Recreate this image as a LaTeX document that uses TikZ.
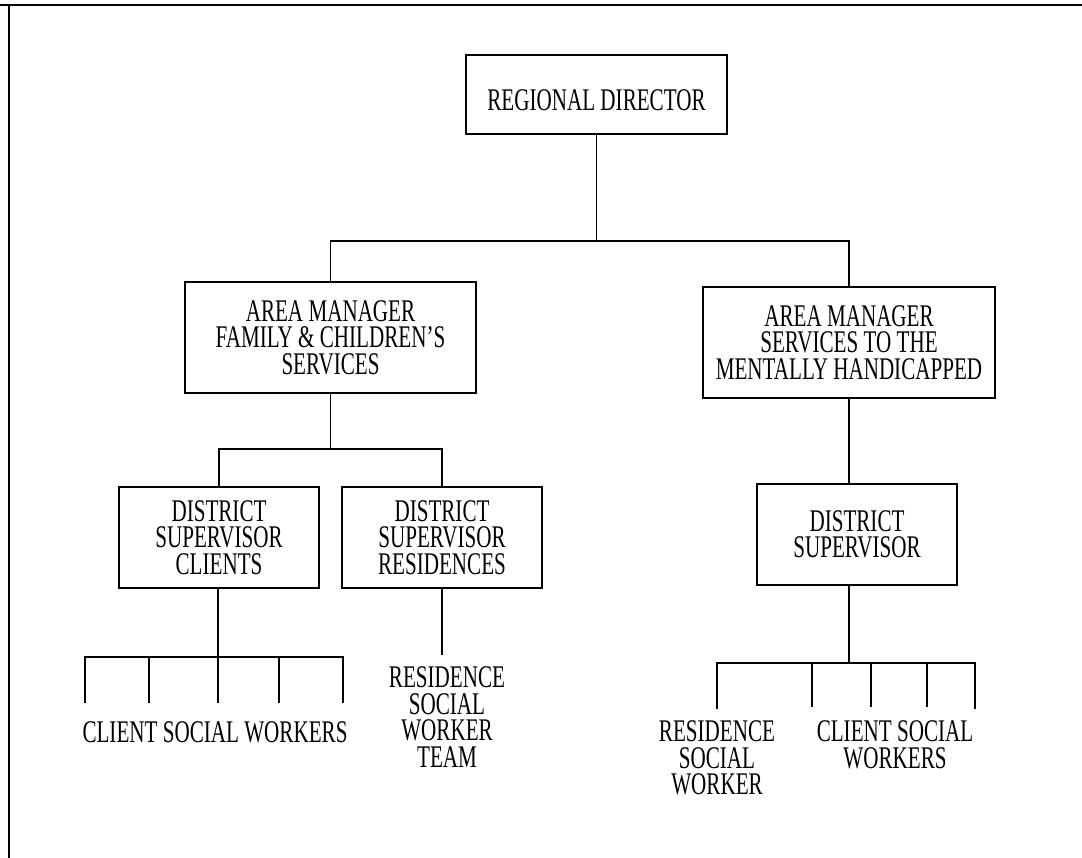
\documentclass[tikz,border=0pt]{standalone}
\usepackage{fontspec}
\setmainfont{Liberation Serif}[FakeStretch=0.67]
\newcommand{\lblfont}{\fontsize{31.5}{26.5}\selectfont}
\begin{document}
\begin{tikzpicture}[x=1pt,y=-1pt,
  orgbox/.style={draw, line width=1.8pt, inner sep=0pt, align=center, font=\lblfont},
  leaf/.style={inner sep=0pt, align=center, font=\lblfont},
  conn/.style={line width=1.4pt},
  frame/.style={line width=2pt}]
\useasboundingbox (0,0) rectangle (1082,858);
% frame (top and left only)
\coordinate (ftl) at (9,5);
\coordinate (ftr) at (1082,5);
\coordinate (fbl) at (9,858);
\coordinate (ftl0) at (0,5);
\draw[frame] (ftl0) -- (ftr);
\draw[frame] (ftl) -- (fbl);

% boxes
\node[orgbox, minimum width=261pt, minimum height=79pt, text height=33pt, text depth=0pt] (rd) at (596.5,94.5) {REGIONAL DIRECTOR};
\node[orgbox, minimum width=291pt, minimum height=111pt] (am1) at (330.5,337.5) {AREA MANAGER\\FAMILY \& CHILDREN'S\\SERVICES};
\node[orgbox, minimum width=292pt, minimum height=111pt] (am2) at (849,342.5) {AREA MANAGER\\SERVICES TO THE\\MENTALLY HANDICAPPED};
\node[orgbox, minimum width=200pt, minimum height=101pt] (ds1) at (219,537.5) {DISTRICT\\SUPERVISOR\\CLIENTS};
\node[orgbox, minimum width=200pt, minimum height=101pt] (ds2) at (442,537.5) {DISTRICT\\SUPERVISOR\\RESIDENCES};
\node[orgbox, minimum width=200pt, minimum height=101pt] (ds3) at (857,534.5) {DISTRICT\\SUPERVISOR};

% leaf texts
\node[leaf] (cw1) at (215,732) {CLIENT SOCIAL WORKERS};
\node[leaf] (rswt) at (447,717) {RESIDENCE\\SOCIAL\\WORKER\\TEAM};
\node[leaf] (rsw) at (717,758) {RESIDENCE\\SOCIAL\\WORKER};
\node[leaf] (cw2) at (895,745) {CLIENT SOCIAL\\WORKERS};

% top level connectors
\coordinate (bus1) at (596.5,241);
\draw[conn] (rd.south) -- (bus1);
\draw[conn] (am1.north) -- (am1.north |- bus1) -- (am2.north |- bus1) -- (am2.north);

% area manager 1 -> district supervisors
\coordinate (bus2) at (330.5,449);
\draw[conn] (am1.south) -- (bus2);
\draw[conn] (ds1.north) -- (ds1.north |- bus2) -- (ds2.north |- bus2) -- (ds2.north);

% area manager 2 -> district supervisor
\coordinate (am2drop) at (849,484);
\draw[conn] (am2.south) -- (am2drop);

% district supervisor clients -> client social workers
\coordinate (busL) at (218,657);
\draw[conn] (busL |- ds1.south) -- (busL);
\coordinate (lw1) at (85,703);
\coordinate (lw2) at (149,703);
\coordinate (lw3) at (218,703);
\coordinate (lw4) at (279,703);
\coordinate (lw5) at (343,703);
\draw[conn] (lw1) -- (lw1 |- busL) -- (lw5 |- busL) -- (lw5);
\foreach \n in {2,3,4} \draw[conn] (lw\n) -- (lw\n |- busL);

% district supervisor residences -> residence team
\coordinate (rtop) at (442,655);
\draw[conn] (ds2.south) -- (rtop);

% district supervisor (right) -> workers
\coordinate (busR) at (849,663);
\draw[conn] (busR |- ds3.south) -- (busR);
\coordinate (rw1) at (717,709);
\coordinate (rw2) at (812,707);
\coordinate (rw3) at (871,707);
\coordinate (rw4) at (927,707);
\coordinate (rw5) at (975,709);
\draw[conn] (rw1) -- (rw1 |- busR) -- (rw5 |- busR) -- (rw5);
\foreach \n in {2,3,4} \draw[conn] (rw\n) -- (rw\n |- busR);
\end{tikzpicture}
\end{document}
